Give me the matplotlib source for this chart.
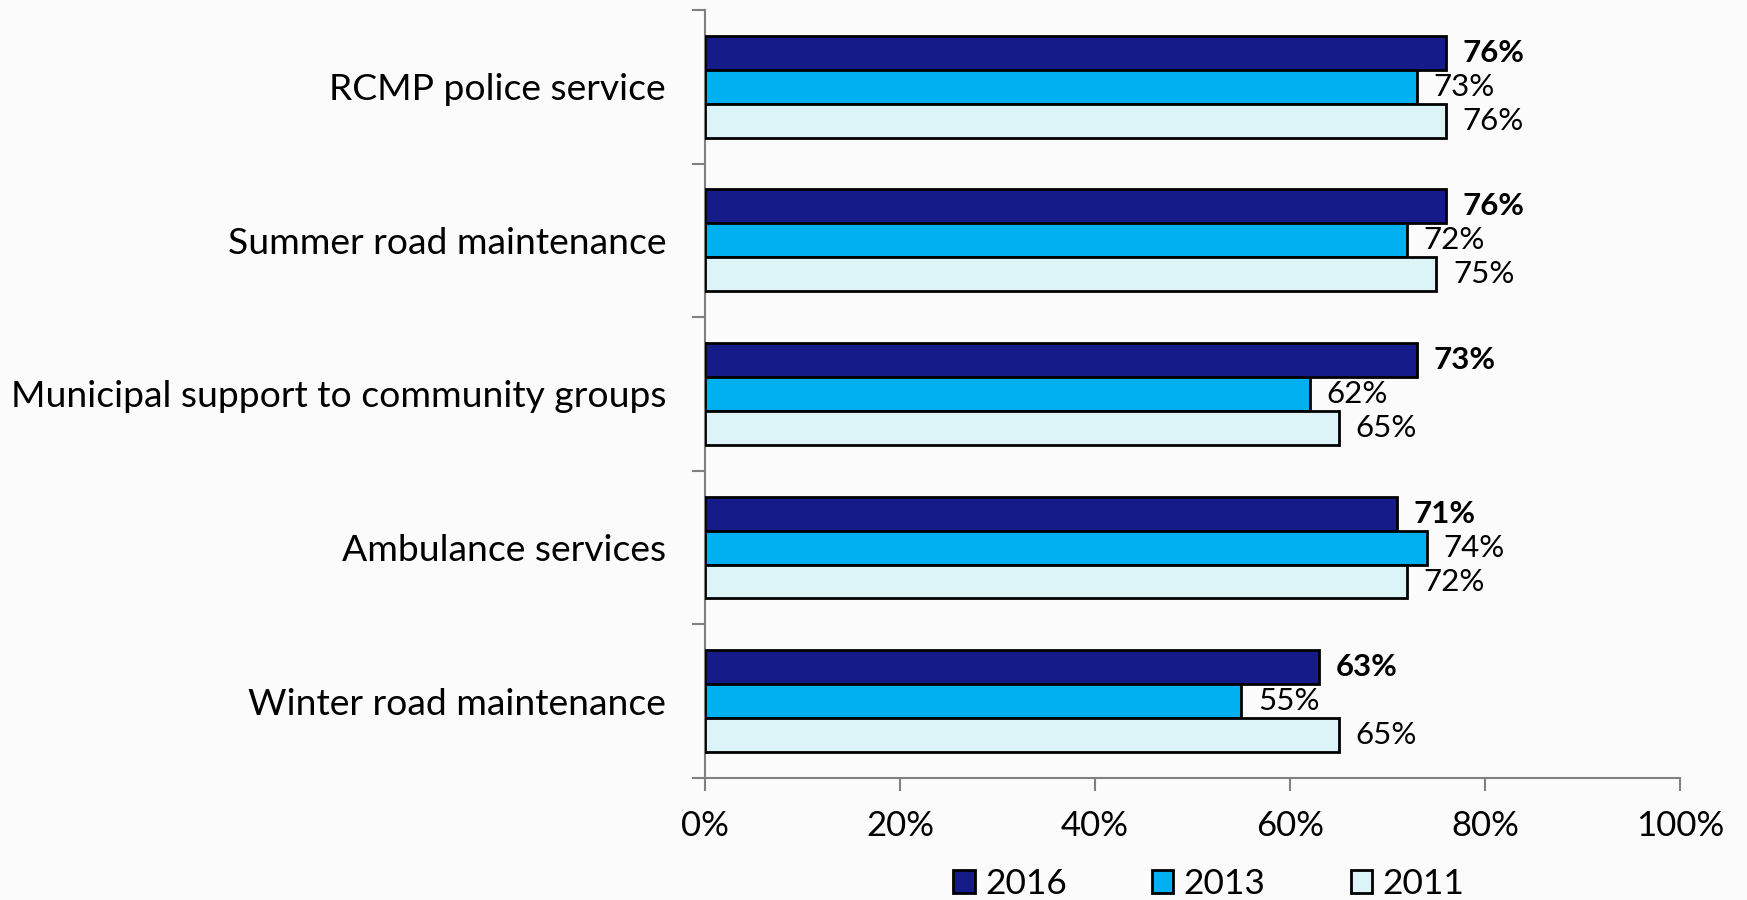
import numpy as np
import matplotlib
matplotlib.use('Agg')
from matplotlib import pyplot as plt
from matplotlib.ticker import FixedLocator, PercentFormatter

plt.rcParams['font.family'] = ['Lato', 'DejaVu Sans']

# satisfaction by service, percent
categories = ['RCMP police service', 'Summer road maintenance',
              'Municipal support to community groups', 'Ambulance services',
              'Winter road maintenance']
years = ['2016', '2013', '2011']
v2016 = [76, 76, 73, 71, 63]
v2013 = [73, 72, 62, 74, 55]
v2011 = [76, 75, 65, 72, 65]

colors = ['#151c8a', '#00b0f0', '#dcf3f8']
axis_grey = '#808080'
bar_h = 0.221

fig = plt.figure(figsize=(17.47, 9.0), dpi=100, facecolor='#fbfbfb')
ax = fig.add_axes([0.4035, 0.1356, 0.9617 - 0.4035, 0.9889 - 0.1356])
ax.set_facecolor('none')

y = np.arange(len(categories))
series = [v2016, v2013, v2011]
for i, (vals, col, yr) in enumerate(zip(series, colors, years)):
    pos = y + (i - 1) * bar_h
    ax.barh(pos, [v / 100 for v in vals], height=bar_h, color=col,
            edgecolor='black', linewidth=2.0, label=yr, zorder=3)
    for p, v in zip(pos, vals):
        ax.annotate('%d%%' % v, xy=(v / 100, p), xytext=(12, 0),
                    textcoords='offset points', va='center', ha='left',
                    fontsize=22.5, fontweight='bold' if i == 0 else 'normal',
                    color='black')

ax.set_xlim(0, 1)
ax.set_ylim(len(categories) - 0.5, -0.5)

ax.xaxis.set_major_locator(FixedLocator(np.arange(0, 1.01, 0.2)))
ax.xaxis.set_major_formatter(PercentFormatter(1.0, decimals=0))
ax.tick_params(axis='x', direction='out', length=9, width=1.5,
               color=axis_grey, labelsize=25, pad=14)

# category names sit between boundary ticks
ax.set_yticks(y)
ax.set_yticklabels(categories)
ax.tick_params(axis='y', which='major', length=0, labelsize=26.8, pad=28)
ax.yaxis.set_minor_locator(FixedLocator(np.arange(-0.5, len(categories), 1.0)))
ax.tick_params(axis='y', which='minor', direction='out', length=9.5,
               width=1.5, color=axis_grey)

for s in ['top', 'right']:
    ax.spines[s].set_visible(False)
for s in ['left', 'bottom']:
    ax.spines[s].set_color(axis_grey)
    ax.spines[s].set_linewidth(1.5)

handles, labels = ax.get_legend_handles_labels()
fig.legend(handles, labels, loc='center', bbox_to_anchor=(0.692, 0.0178),
           ncol=3, frameon=False, fontsize=25.5, handlelength=0.6,
           handleheight=0.6, handletextpad=0.3, columnspacing=2.4)

fig.savefig('out.png', dpi=100, facecolor=fig.get_facecolor())
